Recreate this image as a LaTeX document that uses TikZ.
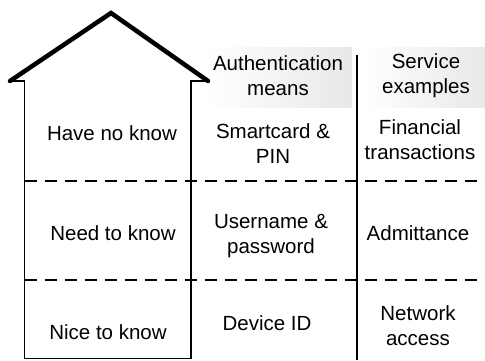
\documentclass[tikz,border=0pt]{standalone}
\usepackage{fontspec}
\setmainfont{Liberation Sans}
\begin{document}
\begin{tikzpicture}[x=1pt,y=-1pt,
  roof/.style={line width=4.5pt,line cap=round,line join=miter},
  wall/.style={line width=1.4pt},
  divline/.style={line width=2.4pt},
  sep/.style={line width=1.4pt,dash pattern=on 12pt off 8pt},
  hdr/.style={left color=white,middle color=gray!55,right color=gray!18,draw=none},
  txt/.style={font=\fontsize{20.5}{25}\selectfont,align=center,inner sep=0pt}]
\useasboundingbox (0,0) rectangle (485,360);
% header boxes
\shade[hdr] (205,47) rectangle (352,107);
\shade[hdr] (362,47) rectangle (485,107);
% house
\coordinate (apex) at (111,13);
\coordinate (le) at (10,81);
\coordinate (re) at (208,81);
\coordinate (lw) at (24.5,81);
\coordinate (rw) at (191,81);
\coordinate (lb) at (24.5,358.5);
\coordinate (rb) at (191,358.5);
\draw[roof] (le) -- (apex) -- (re);
\draw[wall] (le) -- (lw) -- (lb) -- (rb) -- (rw) -- (re);
% divider
\coordinate (dt) at (357,55);
\coordinate (db) at (357,360);
\draw[divline] (dt) -- (db);
% dashed separators
\coordinate (s1a) at (24.5,181); \coordinate (s1b) at (485,181);
\coordinate (s2a) at (24.5,280); \coordinate (s2b) at (485,280);
\draw[sep] (s1a) -- (s1b);
\draw[sep] (s2a) -- (s2b);
% texts
\node[txt] (h1) at (278,76) {Authentication\\means};
\node[txt] (h2) at (426,76) {Service\\examples};
\node[txt] (r1a) at (112,133) {Have no know};
\node[txt] (r1b) at (273,144) {Smartcard \&\\PIN};
\node[txt] (r1c) at (420,140) {Financial\\transactions};
\node[txt] (r2a) at (113,233) {Need to know};
\node[txt] (r2b) at (271,236) {Username \&\\password};
\node[txt] (r2c) at (418,233) {Admittance};
\node[txt] (r3a) at (108,332) {Nice to know};
\node[txt] (r3b) at (267,323) {Device ID};
\node[txt] (r3c) at (418,326) {Network\\access};
\end{tikzpicture}
\end{document}
